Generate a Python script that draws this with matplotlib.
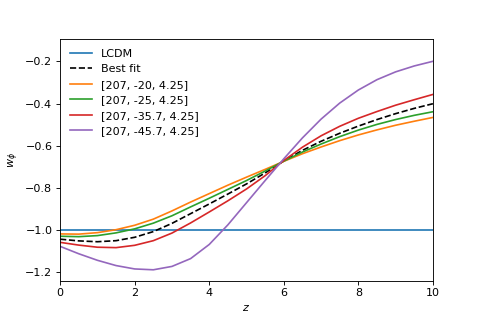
import numpy as np
import matplotlib
matplotlib.use('Agg')
import matplotlib.pyplot as plt

# redshift grid the curves were read on
z = [0.0, 0.5, 1.0, 1.5, 2.0, 2.5, 3.0, 3.5, 4.0, 4.5, 5.0,
     5.5, 6.0, 6.5, 7.0, 7.5, 8.0, 8.5, 9.0, 9.5, 10.0]

w_lcdm = [-1.0] * len(z)
w_best = [-1.043, -1.051, -1.055, -1.050, -1.034, -1.007, -0.968, -0.922, -0.876, -0.829, -0.781,
          -0.729, -0.672, -0.622, -0.579, -0.541, -0.507, -0.476, -0.448, -0.423, -0.401]
w_20 = [-1.018, -1.019, -1.012, -0.998, -0.977, -0.948, -0.909, -0.867, -0.827, -0.787, -0.749,
        -0.712, -0.674, -0.638, -0.606, -0.576, -0.549, -0.525, -0.503, -0.484, -0.466]
w_25 = [-1.029, -1.031, -1.026, -1.013, -0.994, -0.967, -0.932, -0.890, -0.849, -0.807, -0.765,
        -0.720, -0.673, -0.630, -0.592, -0.557, -0.526, -0.499, -0.476, -0.456, -0.439]
w_357 = [-1.058, -1.071, -1.081, -1.083, -1.072, -1.050, -1.014, -0.966, -0.914, -0.861, -0.805,
         -0.742, -0.670, -0.607, -0.553, -0.508, -0.470, -0.438, -0.408, -0.382, -0.357]
w_457 = [-1.077, -1.112, -1.143, -1.168, -1.184, -1.188, -1.172, -1.135, -1.068, -0.975, -0.870,
         -0.765, -0.662, -0.563, -0.474, -0.398, -0.336, -0.287, -0.250, -0.222, -0.200]

labels = ['LCDM', 'Best fit', '[207, -20, 4.25]', '[207, -25, 4.25]',
          '[207, -35.7, 4.25]', '[207, -45.7, 4.25]']

fig = plt.figure(figsize=(481 / 80, 321 / 80), dpi=80)
ax = fig.add_subplot(111)
fig.subplots_adjust(left=0.125, right=0.9, top=0.88, bottom=0.126)

ax.plot(z, w_lcdm, color='C0', label=labels[0])
ax.plot(z, w_best, 'k--', label=labels[1])
ax.plot(z, w_20, color='C1', label=labels[2])
ax.plot(z, w_25, color='C2', label=labels[3])
ax.plot(z, w_357, color='C3', label=labels[4])
ax.plot(z, w_457, color='C4', label=labels[5])

ax.set_xlim(0, 10)
ax.set_ylim(-1.239, -0.092)
ax.set_xlabel('$z$')
ax.set_ylabel(r'$w_\phi$')
ax.legend(loc='upper left', frameon=False)

fig.savefig('out.png', dpi=80)
